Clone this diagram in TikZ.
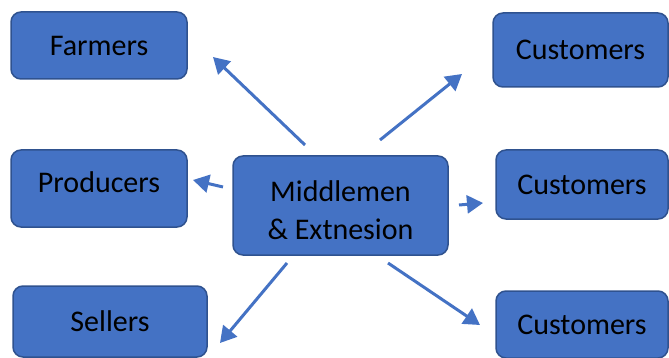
\documentclass[tikz,border=0pt]{standalone}
\usepackage{fontspec}
\setmainfont{Carlito}
\usetikzlibrary{arrows.meta}
\definecolor{boxfill}{HTML}{4472C4}
\definecolor{boxline}{HTML}{2F528F}
\tikzset{
  box/.style={draw=boxline, line width=1.5pt, fill=boxfill, rounded corners=10pt,
    inner sep=0pt, font=\fontsize{30}{38}\selectfont, text=black, align=center},
  conn/.style={draw=boxfill, line width=3pt, -{Triangle[length=16pt,width=18pt]}}
}
\begin{document}
\begin{tikzpicture}[x=1pt,y=-1pt]
\useasboundingbox (0,0) rectangle (669,358);
\node[box, minimum width=176pt, minimum height=67pt] (farm) at (99,45.5) {Farmers};
\node[box, minimum width=176pt, minimum height=77pt] (prod) at (99,188.5) {\raisebox{6pt}[\height][\depth]{Producers}};
\node[box, minimum width=194pt, minimum height=71pt] (sell) at (110,321.5) {Sellers};
\node[box, minimum width=215pt, minimum height=99pt] (mid) at (340.5,205.5) {\raisebox{-7pt}[\height][\depth]{\begin{tabular}{@{}c@{}}Middlemen\\\& Extnesion\end{tabular}}};
\node[box, minimum width=175pt, minimum height=74pt] (c1) at (580.5,50) {Customers};
\node[box, minimum width=172pt, minimum height=69pt] (c2) at (582,184.5) {Customers};
\node[box, minimum width=172pt, minimum height=67pt] (c3) at (582,324.5) {Customers};
\coordinate (a1s) at (305,145); \coordinate (a1e) at (213,57);
\coordinate (a2s) at (223,187); \coordinate (a2e) at (193,180);
\coordinate (a3s) at (287,263); \coordinate (a3e) at (220,343);
\coordinate (a4s) at (380,140); \coordinate (a4e) at (462,74);
\coordinate (a5s) at (459,205); \coordinate (a5e) at (483,203);
\coordinate (a6s) at (388,263); \coordinate (a6e) at (480,325);
\draw[conn] (a1s) -- (a1e);
\draw[conn] (a2s) -- (a2e);
\draw[conn] (a3s) -- (a3e);
\draw[conn] (a4s) -- (a4e);
\draw[conn] (a5s) -- (a5e);
\draw[conn] (a6s) -- (a6e);
\end{tikzpicture}
\end{document}
